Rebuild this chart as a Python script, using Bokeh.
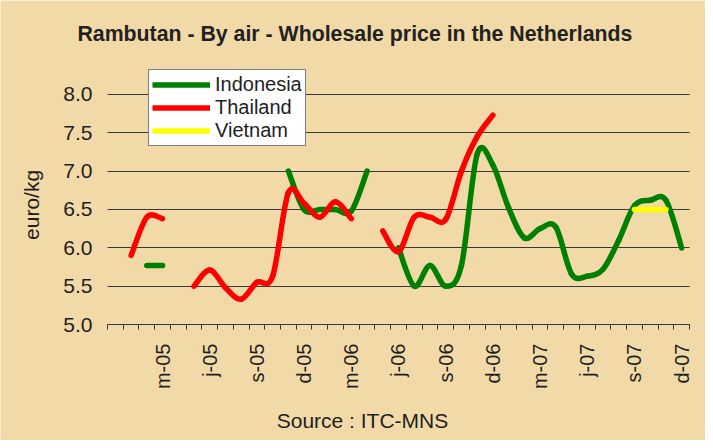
from bokeh.plotting import figure
from bokeh.models import Range1d, FixedTicker, Legend, LegendItem, Label, ColumnDataSource
from bokeh.embed import file_html
from bokeh.resources import INLINE
import math

# ---------------- data ----------------
# monthly categories Dec-2004 .. Dec-2007 (37 months); labels every third month
n_months = 37
tick_label_index = [3, 6, 9, 12, 15, 18, 21, 24, 27, 30, 33, 36]
tick_labels = ["m-05", "j-05", "s-05", "d-05", "m-06", "j-06",
               "s-06", "d-06", "m-07", "j-07", "s-07", "d-07"]

indonesia = [None, None, 5.77, 5.77, None, None, None, None, None, None, None,
             7.0, 6.5, 6.5, 6.5, 6.48, 7.0, None,
             6.0, 5.5, 5.77, 5.5, 5.77, 7.22, 7.08, 6.52, 6.13, 6.25, 6.27,
             5.66, 5.63, 5.72, 6.1, 6.55, 6.62, 6.62, 6.0]
thailand = [None, 5.9, 6.4, 6.38, None,
            5.5, 5.71, 5.48, 5.33, 5.55, 5.63, 6.72, 6.58, 6.40, 6.60, 6.38, None,
            6.22, 5.95, 6.4, 6.4, 6.37, 7.0, 7.45, 7.73,
            None, None, None, None, None, None, None, None, None, None, None, None]
vietnam = [None] * 33 + [6.5, 6.5, 6.5] + [None]

y_ticks = [5.0, 5.5, 6.0, 6.5, 7.0, 7.5, 8.0]

series = [("Indonesia", indonesia, "#008000"),
          ("Thailand", thailand, "#FF0000"),
          ("Vietnam", vietnam, "#FFFF00")]

BG = "#F2DAA8"
FONT = "Liberation Sans"
TXT = "#1e1e1e"
GRID = "#3a3a3a"

# The frame covers the whole figure; the data area is x 0..37, y 5..8 and the axes
# are pinned to its edges, so no text outside the data area gets clipped.
p = figure(width=705, height=440, output_backend="svg", toolbar_location=None,
           x_range=Range1d(-6.802, n_months + 1.017), y_range=Range1d(3.487, 9.226),
           min_border_left=0, min_border_right=0, min_border_top=0, min_border_bottom=0)
p.title = None
p.background_fill_color = BG
p.border_fill_color = BG
p.outline_line_color = None

# grid, limited to the data area
p.xgrid.grid_line_color = None
yg = p.ygrid[0]
yg.ticker = FixedTicker(ticks=y_ticks)
if "cross_bounds" in yg.properties():
    yg.grid_line_color = GRID
    yg.grid_line_width = 1
    yg.cross_bounds = (0, n_months)
else:
    yg.grid_line_color = None
    p.segment(x0=0, x1=n_months, y0=y_ticks, y1=y_ticks, line_color=GRID, line_width=1)

# y axis, pinned at the left edge of the data area
ya = p.yaxis[0]
ya.fixed_location = 0
ya.ticker = FixedTicker(ticks=y_ticks)
ya.major_label_overrides = {v: f"{v:.1f}" for v in y_ticks}
ya.axis_line_color = None
ya.major_tick_line_color = None
ya.minor_tick_line_color = None
ya.major_tick_in = 0
ya.major_tick_out = 0
ya.major_label_standoff = 15
ya.major_label_text_font = FONT
ya.major_label_text_font_size = "21px"
ya.major_label_text_color = TXT

# y axis title
p.add_layout(Label(x=-4.86, y=6.56, text="euro/kg", angle=math.pi / 2,
                   text_align="center", text_baseline="middle", text_font=FONT,
                   text_font_size="21px", text_color=TXT))

# x axis pinned at y = 5.0: labels at category centres, ticks at category boundaries
xa = p.xaxis[0]
xa.fixed_location = 5.0
xa.bounds = (0, n_months)
xa.ticker = FixedTicker(ticks=[i + 0.5 for i in tick_label_index],
                        minor_ticks=list(range(n_months + 1)))
xa.major_label_overrides = {i + 0.5: t for i, t in zip(tick_label_index, tick_labels)}
xa.major_label_orientation = math.pi / 2
xa.major_tick_line_color = None
xa.major_tick_in = 0
xa.major_tick_out = 0
xa.minor_tick_line_color = GRID
xa.minor_tick_in = 0
xa.minor_tick_out = 5
xa.axis_line_color = GRID
xa.axis_line_width = 1
xa.major_label_standoff = 14
xa.major_label_text_font = FONT
xa.major_label_text_font_size = "20px"
xa.major_label_text_color = TXT

# source note below the axis
p.add_layout(Label(x=16.21, y=3.748, text="Source : ITC-MNS",
                   text_align="center", text_baseline="alphabetic", text_font=FONT,
                   text_font_size="21px", text_color=TXT))

# chart title
p.add_layout(Label(x=15.73, y=8.786, text="Rambutan - By air - Wholesale price in the Netherlands",
                   text_align="center", text_baseline="alphabetic", text_font=FONT,
                   text_font_size="21.3px", text_font_style="bold", text_color="#222222"))


def bezier_source(values):
    runs, cur = [], []
    for i, v in enumerate(values):
        if v is None:
            if cur:
                runs.append(cur)
            cur = []
        else:
            cur.append((i + 0.5, v))
    if cur:
        runs.append(cur)
    d = dict(x0=[], y0=[], x1=[], y1=[], cx0=[], cy0=[], cx1=[], cy1=[])
    for run in runs:
        n = len(run)
        for k in range(n - 1):
            pa = run[k - 1] if k > 0 else run[k]
            p1 = run[k]
            p2 = run[k + 1]
            pb = run[k + 2] if k + 2 < n else run[k + 1]
            d["x0"].append(p1[0]); d["y0"].append(p1[1])
            d["x1"].append(p2[0]); d["y1"].append(p2[1])
            d["cx0"].append(p1[0] + (p2[0] - pa[0]) / 6)
            d["cy0"].append(p1[1] + (p2[1] - pa[1]) / 6)
            d["cx1"].append(p2[0] - (pb[0] - p1[0]) / 6)
            d["cy1"].append(p2[1] - (pb[1] - p1[1]) / 6)
    return ColumnDataSource(d)


for name, vals, col in series:
    src = bezier_source(vals)
    p.bezier(x0="x0", y0="y0", x1="x1", y1="y1", cx0="cx0", cy0="cy0",
             cx1="cx1", cy1="cy1", source=src, line_color=col, line_width=5.5,
             line_cap="round")

# legend proxies: a single data point of each series (draws nothing in the plot)
items = []
for name, vals, col in series:
    k = next(i for i, v in enumerate(vals) if v is not None)
    proxy = p.line(x=[k + 0.5], y=[vals[k]], line_color=col, line_width=5.5)
    items.append(LegendItem(label=name, renderers=[proxy]))

# legend bottom sits 294 px above the bottom of the (full-height) frame
legend = Legend(items=items, location=(148, 294), orientation="vertical",
                background_fill_color="white", background_fill_alpha=1.0,
                border_line_color="black", border_line_width=1,
                label_text_font=FONT, label_text_font_size="20px",
                label_text_color=TXT, glyph_width=58, glyph_height=21,
                label_height=21, label_standoff=5, padding=3, spacing=0, margin=0)
p.add_layout(legend, "center")

open("out.html", "w").write(file_html(p, INLINE))
